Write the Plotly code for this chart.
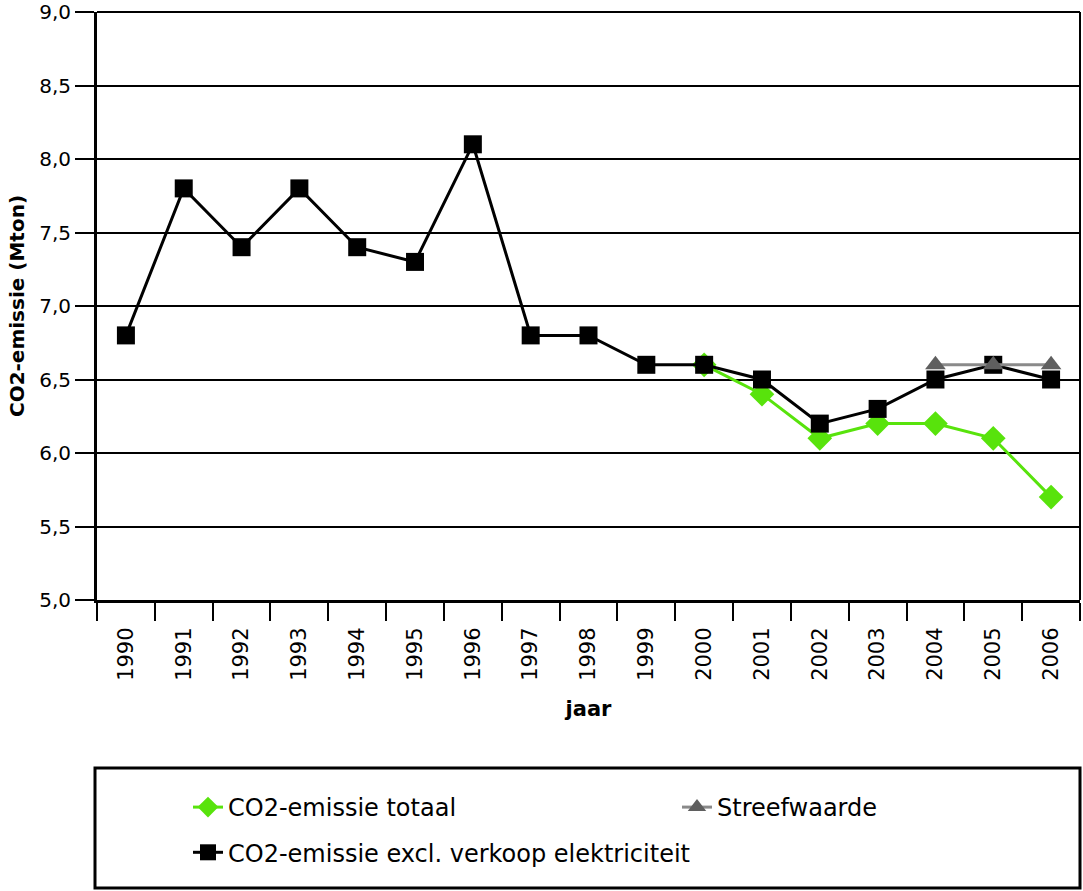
import plotly.graph_objects as go

years = [str(y) for y in range(1990, 2007)]
excl = [6.8, 7.8, 7.4, 7.8, 7.4, 7.3, 8.1, 6.8, 6.8, 6.6, 6.6, 6.5, 6.2, 6.3, 6.5, 6.6, 6.5]
totaal = [None]*10 + [6.6, 6.4, 6.1, 6.2, 6.2, 6.1, 5.7]
streef = [None]*14 + [6.6, 6.6, 6.6]
y_ticks = [5.0, 5.5, 6.0, 6.5, 7.0, 7.5, 8.0, 8.5, 9.0]

FONT = "DejaVu Sans, Arial, sans-serif"
GREEN = "#58e30c"
fig = go.Figure()
fig.add_trace(go.Scatter(x=years, y=totaal, name="CO2-emissie totaal", mode="lines+markers",
                         line=dict(color=GREEN, width=3),
                         marker=dict(symbol="diamond", size=19, color=GREEN),
                         legend="legend", legendgroup="a", legendrank=1))
fig.add_trace(go.Scatter(x=years, y=excl, name="CO2-emissie excl. verkoop elektriciteit", mode="lines+markers",
                         line=dict(color="black", width=3),
                         marker=dict(symbol="square", size=18, color="black"),
                         legend="legend", legendgroup="b", legendrank=2))
fig.add_trace(go.Scatter(x=years, y=streef, name="Streefwaarde", mode="lines+markers",
                         line=dict(color="#8a8a8a", width=3),
                         marker=dict(symbol="triangle-up", size=18, color="#5f5f5f"),
                         legend="legend2"))

W, H = 1083, 891
L, R, T, B = 97, 3, 12, 291
ph = H - T - B
pw = W - L - R
def py(pix):
    return (H - B - pix) / ph
def px(pix):
    return (pix - L) / pw

legend_common = dict(orientation="v", yanchor="top", xanchor="left",
                     font=dict(size=24, family=FONT), bgcolor="rgba(0,0,0,0)", borderwidth=0,
                     tracegroupgap=11)

fig.update_layout(
    width=W, height=H,
    margin=dict(l=L, r=R, t=T, b=B, autoexpand=False),
    paper_bgcolor="white", plot_bgcolor="white",
    separators=", ",
    font=dict(family=FONT, size=21, color="black"),
    showlegend=True,
    legend=dict(x=px(188), y=py(785), **legend_common),
    legend2=dict(x=px(677), y=py(785), **legend_common),
    shapes=[
        dict(type="rect", xref="paper", yref="paper", x0=px(95), x1=1.0,
             y0=py(888), y1=py(768), line=dict(color="black", width=3)),
        dict(type="line", xref="paper", yref="paper", x0=0, x1=1, y0=1, y1=1,
             line=dict(color="black", width=2)),
        dict(type="line", xref="paper", yref="paper", x0=1, x1=1, y0=0, y1=1,
             line=dict(color="black", width=2)),
    ],
    xaxis=dict(type="category", range=[-0.5, 16.5], tickangle=-90, automargin=False,
               ticks="outside", tickson="boundaries", ticklen=18, tickwidth=2, tickcolor="black",
               ticklabelstandoff=16,
               showline=True, linecolor="black", linewidth=3, showgrid=False,
               tickfont=dict(size=21),
               title=dict(text="<b>jaar</b>", font=dict(size=21), standoff=22)),
    yaxis=dict(range=[5, 9], tickvals=y_ticks, tickformat=".1f", automargin=False,
               ticks="outside", ticklen=19, tickwidth=2, tickcolor="black",
               ticklabeloverflow="allow",
               showline=True, linecolor="black", linewidth=3,
               showgrid=True, gridcolor="black", gridwidth=1.5, zeroline=False,
               tickfont=dict(size=20),
               title=dict(text="<b>CO2-emissie (Mton)</b>", font=dict(size=20), standoff=10)),
)
fig.write_html("out.html")
